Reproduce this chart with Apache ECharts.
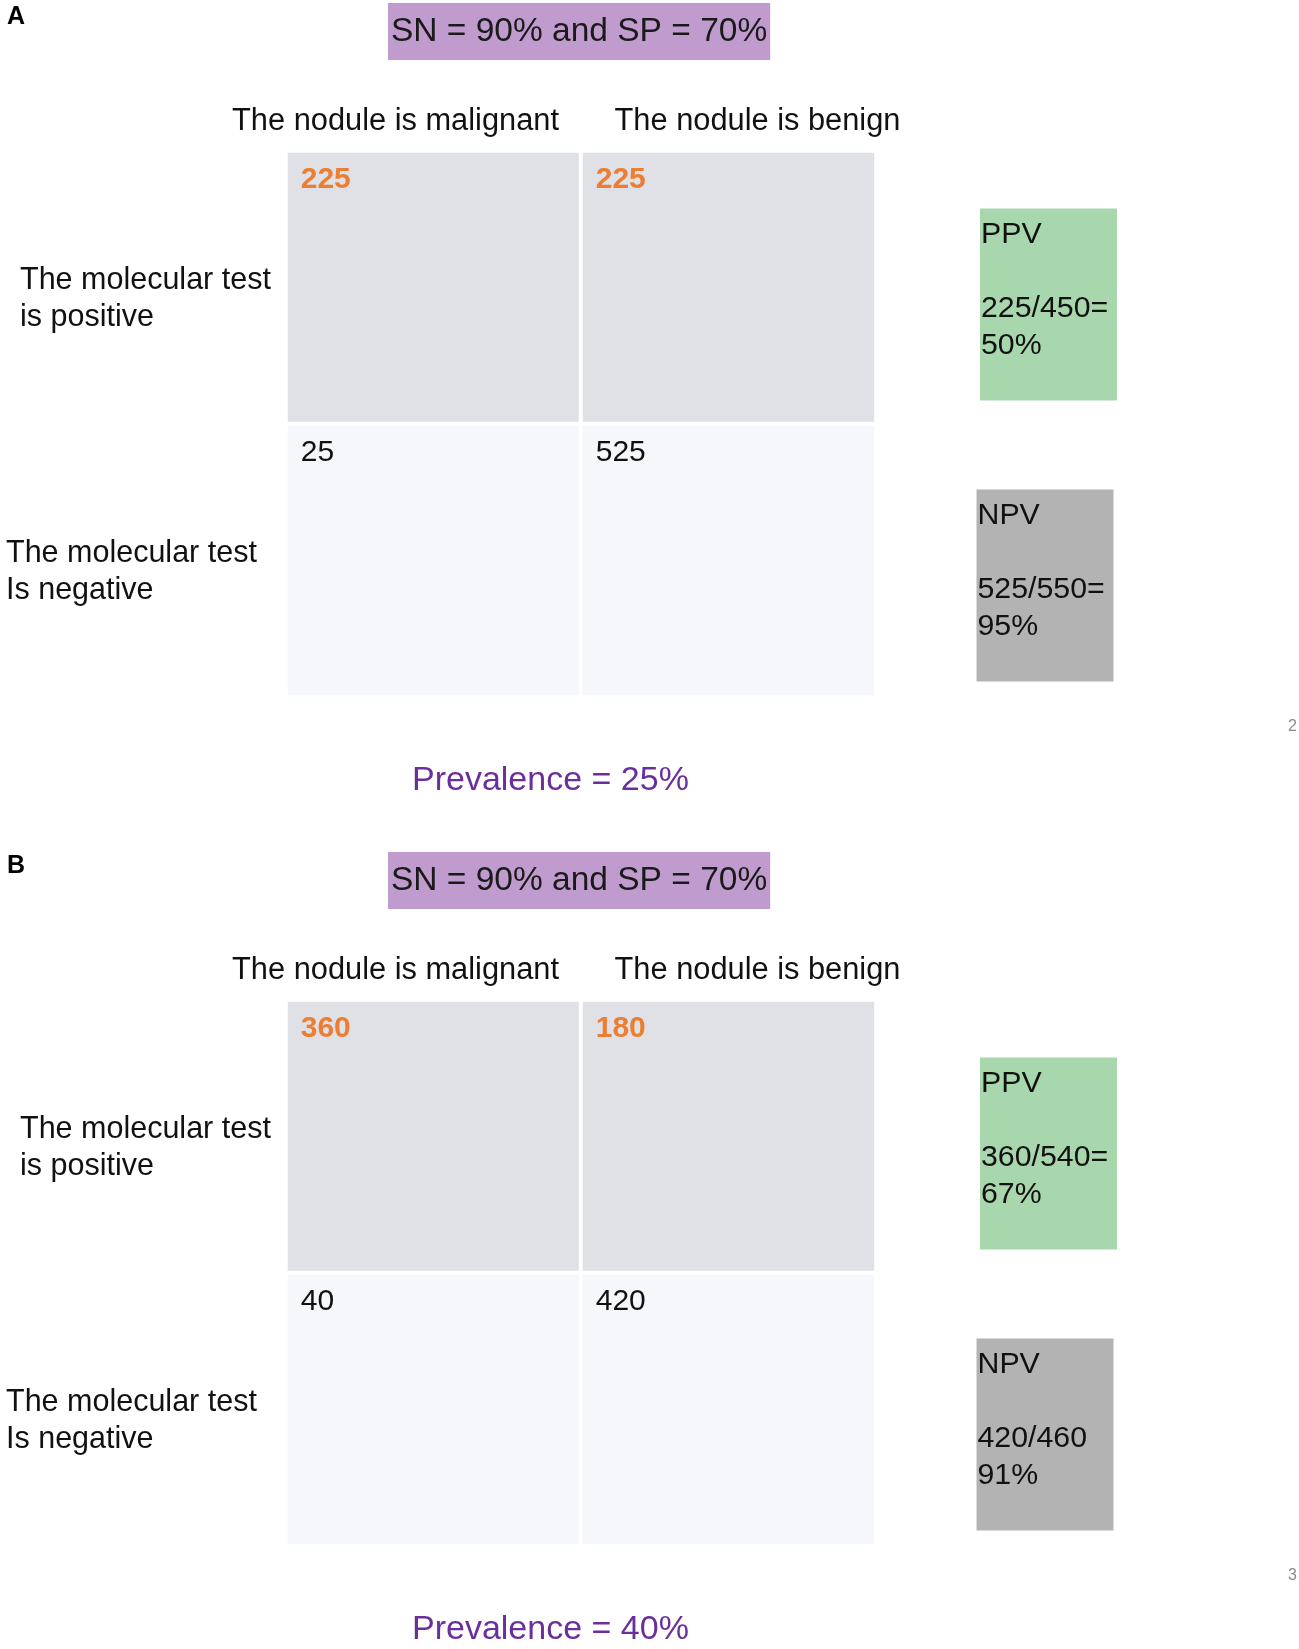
<!DOCTYPE html>
<html>
<head>
<meta charset="utf-8">
<script src="https://cdn.jsdelivr.net/npm/echarts@6/dist/echarts.min.js"></script>
<style>
html,body{margin:0;padding:0;background:#fff;}
#chart{width:1299px;height:1649px;}
</style>
</head>
<body>
<div id="chart"></div>
<script>
// ---- data ----
const columnCategories = ['The nodule is malignant', 'The nodule is benign'];
const rowCategories = ['The molecular test\nis positive', 'The molecular test\nIs negative'];
const panelLabels = ['A', 'B'];
const headerTexts = ['SN = 90% and SP = 70%', 'SN = 90% and SP = 70%'];
// counts[row][col]  rows: positive, negative ; cols: malignant, benign
const countsA = [[225, 225], [25, 525]];
const countsB = [[360, 180], [40, 420]];
const predictiveA = ['PPV\n\n225/450=\n50%', 'NPV\n\n525/550=\n95%'];
const predictiveB = ['PPV\n\n360/540=\n67%', 'NPV\n\n420/460\n91%'];
const prevalenceTexts = ['Prevalence = 25%', 'Prevalence = 40%'];
const pageNumbers = ['2', '3'];

// ---- styles ----
const FONT = "'Liberation Sans', Arial, Helvetica, sans-serif";
const PANEL_OFFSET = 849;
const cellColors = ['#DFE1E6', '#F6F7FA'];
const boxColors = ['#A8D7AD', '#B3B3B3'];
const boxOffsets = [[0, 17], [-3.5, 25]];

const chart = echarts.init(document.getElementById('chart'));

const grids = [], xAxes = [], yAxes = [], series = [], titles = [];

[[countsA, predictiveA], [countsB, predictiveB]].forEach(function (p, k) {
  const counts = p[0], predictive = p[1];
  const dy = k * PANEL_OFFSET;
  const gTable = grids.length;
  grids.push({left: 286, top: 151 + dy, width: 590, height: 546});
  grids.push({left: 980, top: 151 + dy, width: 137, height: 546});

  xAxes.push({
    type: 'category', gridIndex: gTable, position: 'top', data: columnCategories,
    axisLine: {show: false}, axisTick: {show: false}, splitLine: {show: false},
    axisLabel: {
      margin: 14, interval: 0,
      formatter: function (v, i) { return '{c' + i + '|' + v + '}'; },
      rich: {
        c0: {fontSize: 30.8, lineHeight: 30, fontFamily: FONT, color: '#111', padding: [0, 76, 0, 0]},
        c1: {fontSize: 30.8, lineHeight: 30, fontFamily: FONT, color: '#111', padding: [0, 0, 0, 58]}
      }
    }
  });
  yAxes.push({
    type: 'category', gridIndex: gTable, inverse: true, data: rowCategories,
    axisLine: {show: false}, axisTick: {show: false}, splitLine: {show: false},
    axisLabel: {
      margin: 280, align: 'left', interval: 0, padding: [23, 0, 0, 0],
      formatter: function (v, i) {
        return v.split('\n').map(function (s) { return '{r' + i + '|' + s + '}'; }).join('\n');
      },
      rich: {
        r0: {fontSize: 30.5, lineHeight: 36.5, fontFamily: FONT, color: '#111', padding: [0, 0, 0, 14]},
        r1: {fontSize: 30.5, lineHeight: 36.5, fontFamily: FONT, color: '#111'}
      }
    }
  });
  xAxes.push({
    type: 'category', gridIndex: gTable + 1, data: ['pv'], show: false
  });
  yAxes.push({
    type: 'category', gridIndex: gTable + 1, inverse: true, data: ['pos', 'neg'], show: false
  });

  const cells = [];
  counts.forEach(function (row, r) {
    row.forEach(function (v, c) {
      cells.push({
        value: [c, r, v],
        itemStyle: {color: cellColors[r]},
        label: r === 0 ? {color: '#ED7D31', fontWeight: 'bold'} : {color: '#111', fontWeight: 'normal'}
      });
    });
  });
  series.push({
    type: 'heatmap', xAxisIndex: xAxes.length - 2, yAxisIndex: yAxes.length - 2,
    data: cells,
    itemStyle: {borderColor: '#fff', borderWidth: 4},
    label: {
      show: true, position: 'insideTopLeft', distance: 9, padding: [7, 0, 0, 8],
      fontSize: 30, fontFamily: FONT,
      formatter: function (prm) { return prm.value[2]; }
    },
    emphasis: {disabled: true}
  });

  series.push({
    type: 'scatter', xAxisIndex: xAxes.length - 1, yAxisIndex: yAxes.length - 1,
    symbol: 'rect', symbolSize: [137, 192],
    data: predictive.map(function (t, r) {
      return {
        value: [0, r], name: t,
        symbolOffset: boxOffsets[r],
        itemStyle: {color: boxColors[r], opacity: 1}
      };
    }),
    label: {
      show: true, position: 'insideTopLeft', distance: 1, padding: [7, 0, 0, 0],
      fontSize: 30.3, lineHeight: 37, fontFamily: FONT, color: '#111',
      formatter: function (prm) { return prm.name; }
    },
    emphasis: {disabled: true},
    silent: true
  });

  titles.push({
    text: panelLabels[k], left: 7, top: 5 + dy, padding: 0,
    textStyle: {fontSize: 25, lineHeight: 25, fontWeight: 'bold', fontFamily: FONT, color: '#000'}
  });
  titles.push({
    text: headerTexts[k], left: 388, top: 3 + dy, padding: [9, 3, 8, 3],
    backgroundColor: '#C09BCD',
    textStyle: {fontSize: 33.5, lineHeight: 40, fontWeight: 'normal', fontFamily: FONT, color: '#1a1a1a'}
  });
  titles.push({
    text: prevalenceTexts[k], left: 412, top: 761 + dy, padding: 0,
    textStyle: {fontSize: 34, lineHeight: 40, fontWeight: 'normal', fontFamily: FONT, color: '#6B2F9C'}
  });
  titles.push({
    text: pageNumbers[k], left: 1288, top: 719 + dy, padding: 0,
    textStyle: {fontSize: 16, lineHeight: 16, fontWeight: 'normal', fontFamily: FONT, color: '#8a8a8a'}
  });
});

chart.setOption({
  backgroundColor: '#fff',
  animation: false,
  title: titles,
  grid: grids,
  xAxis: xAxes,
  yAxis: yAxes,
  series: series
});
</script>
</body>
</html>
